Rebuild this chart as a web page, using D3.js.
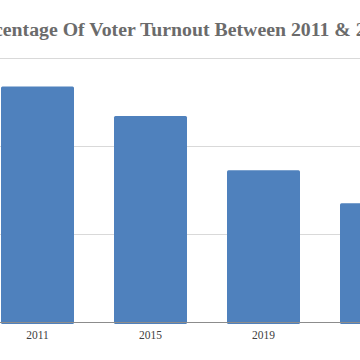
<!DOCTYPE html>
<html><head><meta charset="utf-8">
<script src="https://cdn.jsdelivr.net/npm/d3@7"></script>
<style>html,body{margin:0;padding:0;background:#fff;overflow:hidden}</style>
</head><body>
<svg id="c" width="360" height="360"></svg>
<script>
const categories = ["2011", "2015", "2019", "2023"];
const turnout = [53.5, 46.8, 34.5, 27.0];
const yTicks = [0, 20, 40, 60];
const titleText = "Percentage Of Voter Turnout Between 2011 & 2023";

const svg = d3.select("#c");
svg.append("rect").attr("width", 360).attr("height", 360).attr("fill", "#fff");

const x = d3.scaleBand().domain(categories).range([-19, 433]).paddingInner(0.354).paddingOuter(0.177);
const y = d3.scaleLinear().domain([0, 60]).range([322, 58]);

// gridlines
svg.append("g").selectAll("line").data(yTicks.filter(t => t > 0)).join("line")
  .attr("x1", 0).attr("x2", 360)
  .attr("y1", d => Math.round(y(d)) + 0.5).attr("y2", d => Math.round(y(d)) + 0.5)
  .attr("stroke", "#d9d9d9").attr("stroke-width", 1);

// bars
svg.append("g").selectAll("rect").data(categories).join("rect")
  .attr("x", d => x(d)).attr("width", x.bandwidth())
  .attr("y", (d, i) => y(turnout[i]))
  .attr("height", (d, i) => y(0) - y(turnout[i]) + 2)
  .attr("rx", 1.5)
  .attr("fill", "#4f81bd");

// x axis
const xAxis = d3.axisBottom(x).tickSize(0).tickPadding(9);
const gx = svg.append("g").attr("transform", `translate(0,${y(0)})`).call(xAxis);
gx.select(".domain").remove();
svg.append("line").attr("x1", 0).attr("x2", 360).attr("y1", y(0) + 0.5).attr("y2", y(0) + 0.5)
  .attr("stroke", "#8c8c8c").attr("stroke-width", 1.2);
gx.selectAll("text").attr("font-family", "'Liberation Serif', 'Times New Roman', serif")
  .attr("font-size", 11.5).attr("fill", "#404040");

// title
svg.append("text").attr("x", 180).attr("y", 36).attr("text-anchor", "middle")
  .attr("font-family", "'Liberation Serif', 'Times New Roman', serif")
  .attr("font-weight", "bold").attr("font-size", 19.8).attr("fill", "#6b6b6b")
  .text(titleText);
</script>
</body></html>
